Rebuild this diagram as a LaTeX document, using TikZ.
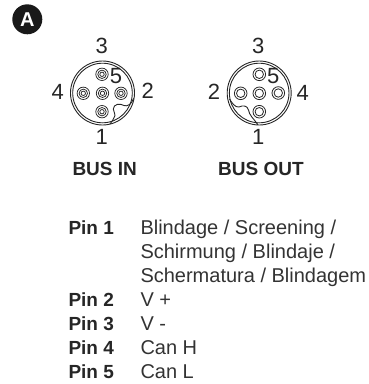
\documentclass[tikz,border=0pt]{standalone}
\usepackage{fontspec}
\setmainfont{Liberation Sans}
\tikzset{
 x=1pt,y=-1pt,
 ring/.style={draw=black!85,line width=.9pt},
 num/.style={font=\fontsize{22}{24}\selectfont,text=black!85,inner sep=0pt},
 bus/.style={font=\fontsize{19}{21}\selectfont\bfseries,text=black!85,inner sep=0pt},
 pinl/.style={font=\fontsize{19}{21}\selectfont\bfseries,text=black!85,inner sep=0pt,anchor=base west},
 pint/.style={font=\fontsize{20}{22}\selectfont,text=black!80,inner sep=0pt,anchor=base west},
}
\begin{document}
\begin{tikzpicture}
\useasboundingbox (0,0) rectangle (368,384);
\fill[black!90] (27.3,19.3) circle (15);
\node[font=\fontsize{20}{20}\selectfont\bfseries,text=white,inner sep=0pt] (A) at (27.3,20) {A};
% left connector
\draw[ring] (102.5,93) circle (32);
\draw[ring] (102.5,93) circle (29.8);
\foreach \x/\y in {102.5/93.3,83.3/93.3,121/93.3,102/74.3,102/111.7} {
  \draw[ring,line width=.75pt] (\x,\y) circle (6.2);
  \draw[ring,line width=.75pt] (\x,\y) circle (4.2);
  \draw[ring,line width=.75pt] (\x,\y) circle (2.2);
}
\draw[ring] (133.6,98.3) .. controls (132,104) and (127,107) .. (124,105.5) .. controls (120,103) and (113.5,104) .. (113.3,109) .. controls (113.2,112) and (115.5,113) .. (115,115.5) .. controls (114.5,119) and (111.5,121) .. (110,124);
\node[num] (l3) at (101.7,46) {3};
\node[num] (l4) at (57.7,92.3) {4};
\node[num] (l2) at (147.7,91) {2};
\node[num] (l5) at (116,76) {5};
\node[num] (l1) at (101.7,136.7) {1};
% right connector
\draw[ring] (259.2,93) circle (32);
\draw[ring] (259.2,93) circle (29.8);
\foreach \x/\y in {259.3/93.3,240.7/93.3,278.3/93,259.3/74.3,259.3/111.7} {
  \draw[ring,line width=.8pt] (\x,\y) circle (6.3);
  \draw[ring,line width=.8pt] (\x,\y) circle (4.2);
}
\draw[ring] (229.5,99) .. controls (232,103) and (235,107.5) .. (239,107) .. controls (243,105) and (247.5,105.5) .. (248.5,110) .. controls (249,115) and (254,119) .. (258,124.8);
\node[num] (r3) at (258.3,46) {3};
\node[num] (r2) at (214,92.3) {2};
\node[num] (r4) at (302.7,93) {4};
\node[num] (r5) at (273.3,76) {5};
\node[num] (r1) at (258.3,136.7) {1};
\node[bus] (bi) at (104.7,169) {BUS IN};
\node[bus] (bo) at (261,169) {BUS OUT};
\node[pinl] (p1) at (68.3,234) {Pin 1};
\node[pint] (t1) at (140.3,234) {Blindage / Screening /};
\node[pint] (t1b) at (140.3,258.3) {Schirmung / Blindaje /};
\node[pint] (t1c) at (140.3,282.5) {Schermatura / Blindagem};
\node[pinl] (p2) at (68.3,306) {Pin 2};
\node[pint] (t2) at (140.3,306) {V +};
\node[pinl] (p3) at (68.3,330) {Pin 3};
\node[pint] (t3) at (140.3,330) {V -};
\node[pinl] (p4) at (68.3,354) {Pin 4};
\node[pint] (t4) at (140.3,354) {Can H};
\node[pinl] (p5) at (68.3,378) {Pin 5};
\node[pint] (t5) at (140.3,378) {Can L};
\end{tikzpicture}
\end{document}
